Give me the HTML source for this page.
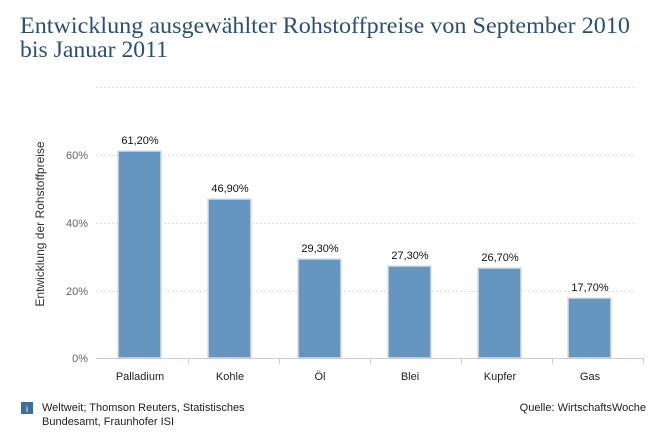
<!DOCTYPE html>
<html><head><meta charset="utf-8"><style>
body{margin:0;background:#fff;width:662px;height:439px;overflow:hidden;font-family:"Liberation Sans",sans-serif}
</style></head><body>
<svg width="662" height="439" xmlns="http://www.w3.org/2000/svg">
<text x="20" y="33" font-family="Liberation Serif" font-size="23" fill="#2c4f73" textLength="610" lengthAdjust="spacingAndGlyphs">Entwicklung ausgewählter Rohstoffpreise von September 2010</text>
<text x="20" y="57" font-family="Liberation Serif" font-size="23" fill="#2c4f73" textLength="148" lengthAdjust="spacingAndGlyphs">bis Januar 2011</text>
<g stroke="#ddd" stroke-dasharray="2,2" stroke-width="1">
<line x1="96" x2="636" y1="87.5" y2="87.5"/>
<line x1="96" x2="636" y1="155.5" y2="155.5"/>
<line x1="96" x2="636" y1="223.5" y2="223.5"/>
<line x1="96" x2="636" y1="291.5" y2="291.5"/>
</g>
<g font-size="11" fill="#666" text-anchor="end">
<text x="88" y="159">60%</text><text x="88" y="227">40%</text><text x="88" y="295">20%</text><text x="88" y="362">0%</text>
</g>
<text transform="translate(44,224) rotate(-90)" font-size="12" fill="#333" text-anchor="middle">Entwicklung der Rohstoffpreise</text>
<g fill="#6596c0" stroke="#d6dde5" stroke-width="1.5">
<rect x="118" y="151" width="43" height="207"/>
<rect x="208" y="199" width="43" height="159"/>
<rect x="298" y="259" width="43" height="99"/>
<rect x="388" y="266" width="43" height="92"/>
<rect x="478" y="268" width="43" height="90"/>
<rect x="568" y="298" width="43" height="60"/>
</g>
<g font-size="11" fill="#111" text-anchor="middle">
<text x="140" y="144">61,20%</text><text x="230" y="192">46,90%</text><text x="320" y="252">29,30%</text><text x="410" y="259">27,30%</text><text x="500" y="261">26,70%</text><text x="590" y="291">17,70%</text>
</g>
<g stroke="#ccd" stroke-width="1">
<line x1="96" x2="643" y1="358.5" y2="358.5"/>
<line x1="188.5" x2="188.5" y1="358" y2="364"/><line x1="279.5" x2="279.5" y1="358" y2="364"/><line x1="370.5" x2="370.5" y1="358" y2="364"/><line x1="461.5" x2="461.5" y1="358" y2="364"/><line x1="552.5" x2="552.5" y1="358" y2="364"/><line x1="643.5" x2="643.5" y1="358" y2="364"/>
</g>
<g font-size="11" fill="#222" text-anchor="middle">
<text x="140" y="380">Palladium</text><text x="230" y="380">Kohle</text><text x="320" y="380">Öl</text><text x="410" y="380">Blei</text><text x="500" y="380">Kupfer</text><text x="590" y="380">Gas</text>
</g>
<rect x="21" y="402" width="12" height="12" fill="#3d6e9e"/>
<text x="27" y="412" font-size="9" fill="#fff" text-anchor="middle">i</text>
<text x="42" y="411" font-size="11" fill="#222">Weltweit; Thomson Reuters, Statistisches</text>
<text x="42" y="425" font-size="11" fill="#222">Bundesamt, Fraunhofer ISI</text>
<text x="646" y="411" font-size="11" fill="#222" text-anchor="end">Quelle: WirtschaftsWoche</text>
</svg>
</body></html>
